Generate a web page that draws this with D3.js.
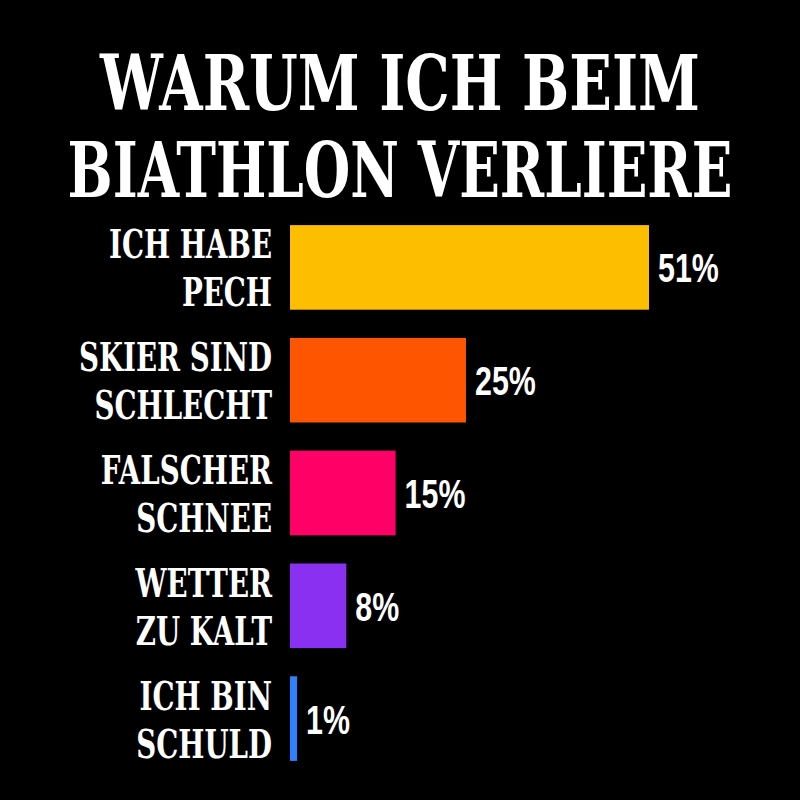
<!DOCTYPE html>
<html>
<head>
<meta charset="utf-8">
<script src="https://cdn.jsdelivr.net/npm/d3@7"></script>
<style>
  html, body { margin: 0; padding: 0; background: #000; }
  svg { display: block; }
</style>
</head>
<body>
<svg id="chart" width="800" height="800"></svg>
<script>
const titleLines = ["WARUM ICH BEIM", "BIATHLON VERLIERE"];
const categories = ["ICH HABE PECH", "SKIER SIND SCHLECHT", "FALSCHER SCHNEE", "WETTER ZU KALT", "ICH BIN SCHULD"];
const labelLines = [["ICH HABE", "PECH"], ["SKIER SIND", "SCHLECHT"], ["FALSCHER", "SCHNEE"], ["WETTER", "ZU KALT"], ["ICH BIN", "SCHULD"]];
const values = [51, 25, 15, 8, 1];
const colors = ["#fdbe00", "#fe5500", "#ff0066", "#8a30f0", "#2f80ff"];

const svg = d3.select("#chart");
svg.append("rect").attr("width", 800).attr("height", 800).attr("fill", "#000");

const titleFont = "'DejaVu Serif', serif";
const labelFont = "'DejaVu Serif', serif";

// Title: scaled horizontally to fit its line width
const titleSpec = [{y: 110, w: 600}, {y: 197, w: 665}];
svg.selectAll("g.title").data(titleLines).join("g")
  .attr("class", "title")
  .each(function(d, i) {
    const g = d3.select(this);
    const t = g.append("text")
      .attr("text-anchor", "middle")
      .attr("font-family", titleFont)
      .attr("font-weight", "bold")
      .attr("font-size", 76)
      .attr("fill", "#fff")
      .text(d);
    const len = t.node().getComputedTextLength();
    g.attr("transform", `translate(400,${titleSpec[i].y}) scale(${titleSpec[i].w / len},1)`);
  });

const x0 = 290;
const x = d3.scaleLinear().domain([0, 51]).range([x0, 649]);
const y = d3.scaleBand().domain(categories).range([225 - 14, 761 + 14]).paddingInner(0.25).paddingOuter(0.125);

svg.selectAll("rect.bar").data(values).join("rect")
  .attr("class", "bar")
  .attr("x", x0)
  .attr("y", (d, i) => y(categories[i]))
  .attr("width", d => x(d) - x0)
  .attr("height", y.bandwidth())
  .attr("fill", (d, i) => colors[i]);

// value labels
svg.selectAll("g.val").data(values).join("g")
  .attr("class", "val")
  .attr("transform", (d, i) => `translate(${x(d) + 9},${y(categories[i]) + y.bandwidth() / 2 + 15}) scale(0.76,1)`)
  .append("text")
  .attr("font-family", "'Liberation Sans Narrow', 'Arial Narrow', sans-serif")
  .attr("font-weight", "bold")
  .attr("font-size", 40)
  .attr("fill", "#fff")
  .text(d => d + "%");

// category labels
const lg = svg.selectAll("g.lab").data(labelLines).join("g").attr("class", "lab");
lg.selectAll("g").data((d, i) => d.map((t, j) => ({t, j, i}))).join("g")
  .attr("transform", d => `translate(272,${y(categories[d.i]) + y.bandwidth() / 2 - 9 + d.j * 48}) scale(0.71,1)`)
  .append("text")
  .attr("text-anchor", "end")
  .attr("font-family", labelFont)
  .attr("font-weight", "bold")
  .attr("font-size", 39)
  .attr("fill", "#fff")
  .text(d => d.t);
</script>
</body>
</html>
